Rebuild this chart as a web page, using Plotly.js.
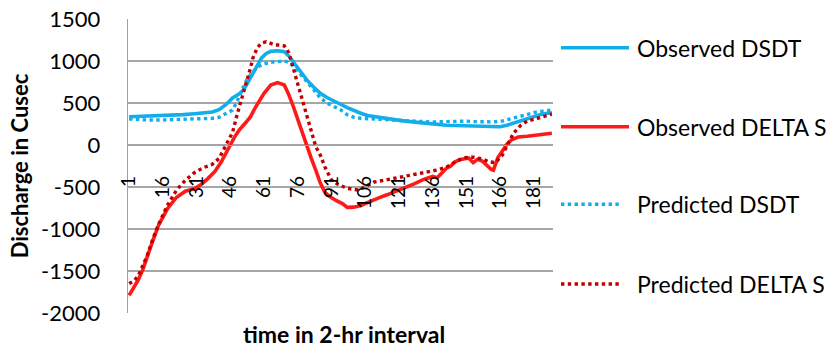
<!DOCTYPE html>
<html>
<head>
<meta charset="utf-8">
<script src="https://cdn.plot.ly/plotly-3.0.1.min.js"></script>
<style>html,body{margin:0;padding:0;background:#fff;}#chart{width:827px;height:350px;}</style>
</head>
<body>
<div id="chart"></div>
<script>
// ---- data ----
const seriesNames = ["Observed DSDT", "Observed DELTA S", "Predicted DSDT", "Predicted DELTA S"];

const obsDsdtX = [1,5,10,15,20,25,30,35,38,41,44,47,50,52,54,56,58,60,62,64,67,70,72,74,77,80,83,86,89,92,95,98,101,104,107,110,114,118,122,126,130,134,138,142,146,150,154,158,162,166,169,172,175,178,181,184,187,189];
const obsDsdtY = [337,340,345,350,355,362,372,385,392,420,480,560,610,660,760,860,960,1040,1090,1115,1122,1110,1060,990,880,775,690,615,565,530,485,445,410,378,352,338,322,305,290,278,265,252,242,235,233,228,225,220,218,218,235,262,290,318,340,362,378,385];

const obsDeltaX = [1,3,5,7,9,11,14,18,22,26,30,33,36,39,42,44,46,48,50,53,55,57,59,61,64,67,70,72,74,76,78,80,82,84,86,88,90,93,96,98,101,104,108,112,116,120,124,128,132,136,138,140,142,144,146,148,150,152,154,156,158,160,162,163,164,165,167,169,171,174,178,183,189];
const obsDeltaY = [-1790,-1700,-1610,-1490,-1350,-1180,-960,-760,-625,-550,-520,-470,-400,-320,-200,-90,0,100,180,270,337,440,535,615,714,742,714,600,460,297,150,0,-160,-300,-450,-560,-610,-660,-700,-742,-740,-720,-670,-630,-590,-550,-510,-460,-410,-375,-390,-340,-280,-250,-200,-175,-165,-155,-210,-170,-190,-240,-290,-300,-230,-150,-70,10,60,95,105,120,140];

const predDsdtX = [1,5,10,15,20,25,30,35,38,41,44,47,49,51,53,55,57,59,61,64,67,70,72,74,77,80,83,86,89,92,95,98,101,104,107,111,115,119,123,127,131,135,139,143,147,151,155,159,163,167,170,173,176,179,182,185,188,189];
const predDsdtY = [310,300,297,297,300,303,307,312,318,330,370,416,520,640,760,840,900,940,965,985,995,1000,985,940,850,760,660,560,500,460,420,360,330,318,313,308,303,295,288,282,278,274,276,280,286,284,278,272,275,286,305,325,345,370,392,405,412,416];

const predDeltaX = [1,3,5,7,9,11,14,18,22,26,30,34,38,41,43,45,47,49,51,53,55,56,58,60,62,64,66,68,70,72,74,76,78,80,82,84,86,88,91,94,98,103,106,110,115,121,127,133,138,142,146,150,154,158,161,164,167,170,172,175,178,181,184,187,189];
const predDeltaY = [-1650,-1620,-1560,-1440,-1320,-1160,-950,-720,-540,-420,-330,-270,-230,-160,-60,30,150,360,560,734,920,1031,1160,1215,1230,1210,1190,1190,1180,1100,913,720,520,340,150,-20,-119,-258,-417,-470,-516,-536,-496,-440,-417,-385,-357,-317,-298,-265,-200,-150,-145,-165,-200,-210,-120,40,143,230,285,305,330,357,369];

const xTickVals = [1,16,31,46,61,76,91,106,121,136,151,166,181];
const xTickText = ["1","16","31","46","61","76","91","106","121","136","151","166","181"];
const yTickVals = [-2000,-1500,-1000,-500,0,500,1000,1500];
const yTickText = ["-2000","-1500","-1000","-500","0","500","1000","1500"];

// ---- styling ----
const FONT = "Lato, 'Open Sans', sans-serif";
const BLUE = "#12AEEC", RED = "#FF1A1A", DARKRED = "#C00000";
const styles = [
  {color: BLUE, width: 3.6, dash: "solid"},
  {color: RED, width: 3.6, dash: "solid"},
  {color: BLUE, width: 3.4, dash: "dot"},
  {color: DARKRED, width: 3.4, dash: "dot"}
];
const xs = [obsDsdtX, obsDeltaX, predDsdtX, predDeltaX];
const ys = [obsDsdtY, obsDeltaY, predDsdtY, predDeltaY];

const traces = seriesNames.map((n, i) => ({
  type: "scatter", mode: "lines", name: n, x: xs[i], y: ys[i],
  line: {color: styles[i].color, width: styles[i].width, dash: styles[i].dash},
  showlegend: false, hoverinfo: "skip"
}));

const yMin = -2000, yMax = 1500;
const legendY = [0.9024, 0.6337, 0.3697, 0.0986];
const shapes = seriesNames.map((n, i) => ({
  type: "line", xref: "paper", yref: "paper",
  x0: 1.0188, x1: (styles[i].dash === "dot" ? 1.158 : 1.1788), y0: legendY[i], y1: legendY[i],
  line: {color: styles[i].color, width: styles[i].width, dash: styles[i].dash}
}));
const annotations = seriesNames.map((n, i) => ({
  xref: "paper", yref: "paper", x: 1.193, y: legendY[i], xanchor: "left", yanchor: "middle",
  text: n, showarrow: false, font: {family: FONT, size: 23, color: "#000"}
}));
annotations.push({
  xref: "paper", yref: "paper", x: 0.508, y: -0.0714, xanchor: "center", yanchor: "middle",
  text: "time in 2-hr interval", showarrow: false,
  font: {family: FONT, size: 23, color: "#000", weight: 700}
});

const layout = {
  width: 827, height: 350,
  margin: {l: 128, r: 274, t: 19, b: 37},
  paper_bgcolor: "#ffffff", plot_bgcolor: "#ffffff",
  font: {family: FONT, color: "#000"},
  xaxis: {
    range: [0.5, 189.5], anchor: "free", position: (0 - yMin) / (yMax - yMin),
    tickmode: "array", tickvals: xTickVals, ticktext: xTickText, tickangle: -90,
    ticks: "", ticklabelstandoff: 22, tickfont: {family: FONT, size: 19, color: "#000"},
    showgrid: false, zeroline: false, showline: true, linecolor: "#A0A0A0", linewidth: 1.3
  },
  yaxis: {
    range: [yMin, yMax], tickmode: "array", tickvals: yTickVals, ticktext: yTickText,
    ticks: "", ticklabelstandoff: 22, tickfont: {family: FONT, size: 22, color: "#000"},
    showgrid: true, gridcolor: "#A6A6A6", gridwidth: 1.3, zeroline: false,
    showline: true, linecolor: "#A0A0A0", linewidth: 1.3,
    title: {text: "Discharge in Cusec", standoff: 6, font: {family: FONT, size: 22, color: "#000", weight: 700}}
  },
  shapes: shapes,
  annotations: annotations
};

Plotly.newPlot("chart", traces, layout, {staticPlot: true, displayModeBar: false});
</script>
</body>
</html>
